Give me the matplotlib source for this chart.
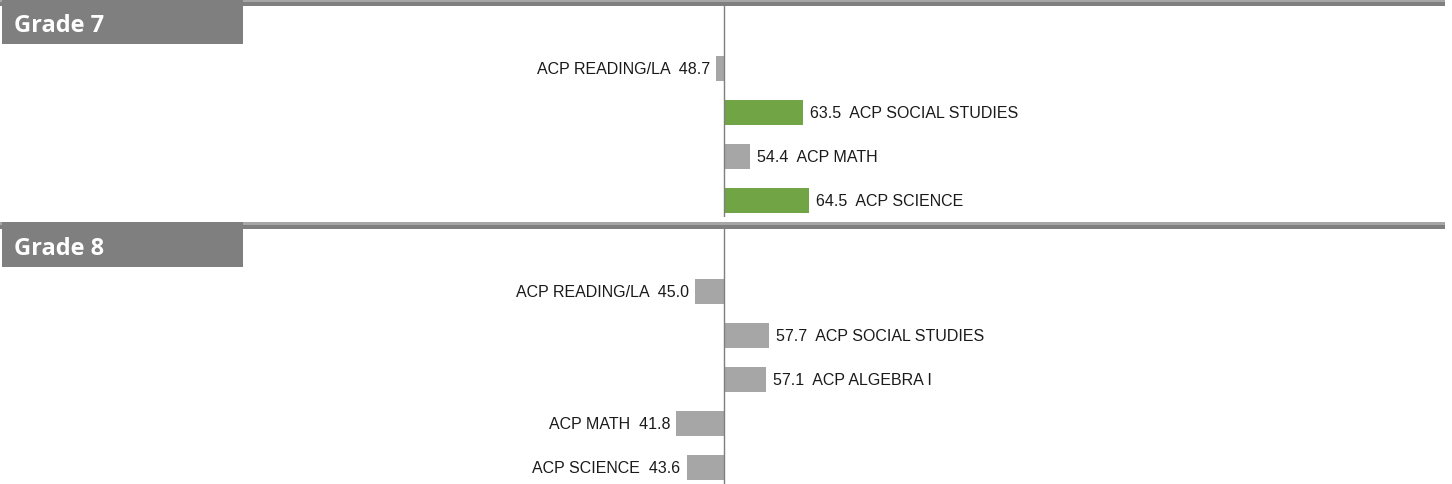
import matplotlib
matplotlib.use("Agg")
import matplotlib.pyplot as plt
from matplotlib.patches import Rectangle

# data
grade7_subjects = ["ACP READING/LA", "ACP SOCIAL STUDIES", "ACP MATH", "ACP SCIENCE"]
grade7_scores = [48.7, 63.5, 54.4, 64.5]
grade8_subjects = ["ACP READING/LA", "ACP SOCIAL STUDIES", "ACP ALGEBRA I", "ACP MATH", "ACP SCIENCE"]
grade8_scores = [45.0, 57.7, 57.1, 41.8, 43.6]
baseline = 50.0
highlight_at = 60.0

W, H = 1452, 485
GREEN = "#70a444"
GRAY = "#a6a6a6"
DARK = "#7f7f7f"

fig = plt.figure(figsize=(W / 100, H / 100), dpi=100)

# background layer in pixel units for the header bands
bg = fig.add_axes([0, 0, 1, 1])
bg.set_xlim(0, W); bg.set_ylim(H, 0); bg.axis("off")


def header(y0, label):
    bg.add_patch(Rectangle((0, y0), 1445, 3, color="#a6a6a6", lw=0))
    bg.add_patch(Rectangle((0, y0 + 2.5), 1445, 4.5, color=DARK, lw=0))
    bg.add_patch(Rectangle((2, y0), 241, 45, color=DARK, lw=0))
    bg.text(14, y0 + 26, label, color="white", fontsize=17, fontweight="bold",
            family="Open Sans", va="center", ha="left")


header(0, "Grade 7")
header(223, "Grade 8")

px_per_unit = 5.85
center_px = 724
xlim = (baseline - center_px / px_per_unit, baseline + (W - center_px) / px_per_unit)
row_px = 44.0


def panel(top, bottom, first_center, subjects, scores):
    ax = fig.add_axes([0, 1 - bottom / H, 1, (bottom - top) / H])
    ax.set_xlim(*xlim)
    ax.set_ylim((bottom - first_center) / row_px, (top - first_center) / row_px)
    ax.axis("off")
    ax.axvline(baseline, color=DARK, lw=1)
    for i, (s, v) in enumerate(zip(subjects, scores)):
        c = GREEN if v > highlight_at else GRAY
        ax.barh(i, v - baseline, left=baseline, height=0.59, color=c, lw=0)
        if v >= baseline:
            ax.annotate(f"{v:.1f}  {s}", (v, i), xytext=(7, 0), textcoords="offset pixels",
                        ha="left", va="center", fontsize=11.5, family="Liberation Sans",
                        color="#1a1a1a")
        else:
            ax.annotate(f"{s}  {v:.1f}", (v, i), xytext=(-6, 0), textcoords="offset pixels",
                        ha="right", va="center", fontsize=11.5, family="Liberation Sans",
                        color="#1a1a1a")
    return ax


panel(7, 218, 69.5, grade7_subjects, grade7_scores)
panel(230, 485, 292.5, grade8_subjects, grade8_scores)

fig.savefig("out.png", dpi=100)
